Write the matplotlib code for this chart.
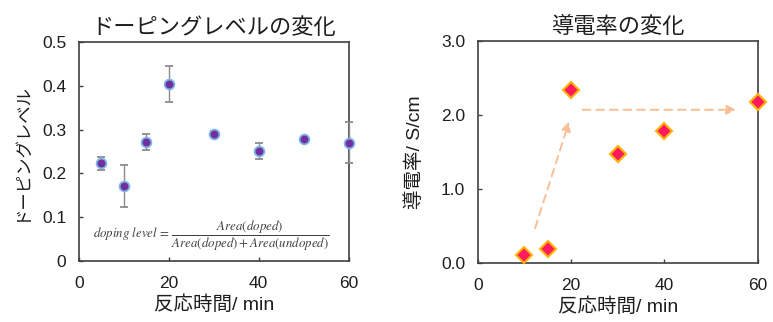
import matplotlib
matplotlib.use("Agg")
import matplotlib.pyplot as plt

plt.rcParams['font.family'] = ['Liberation Sans', 'Noto Sans CJK JP', 'DejaVu Sans']
plt.rcParams['mathtext.fontset'] = 'stix'

# Left chart: doping level
dop_time = [5, 10, 15, 20, 30, 40, 50, 60]
dop_level = [0.223, 0.172, 0.272, 0.405, 0.290, 0.252, 0.279, 0.270]
dop_err = [0.015, 0.048, 0.019, 0.041, 0.007, 0.018, 0.004, 0.047]

# Right chart: conductivity
cond_time = [10, 15, 20, 30, 40, 60]
cond_val = [0.112, 0.19, 2.34, 1.47, 1.786, 2.17]

# Arrow guides (data coords)
arrow1 = [(12.3, 0.47), (19.6, 1.91)]
arrow2 = [(22.5, 2.07), (55.4, 2.07)]

text_c = '#1e1e1e'
spine_c = '#404040'

fig = plt.figure(figsize=(7.73, 3.22), dpi=100)
ax1 = fig.add_axes([0.102, 0.189, 0.349, 0.681])
ax2 = fig.add_axes([0.618, 0.183, 0.362, 0.690])

def style(ax):
    for s in ax.spines.values():
        s.set_color(spine_c)
        s.set_linewidth(1.2)
    ax.tick_params(direction='in', length=3, width=1, color=spine_c,
                   labelsize=12.5, labelcolor=text_c)
    ax.tick_params(axis='y', pad=9)
    ax.tick_params(axis='x', pad=11)

# Left
ax1.errorbar(dop_time, dop_level, yerr=dop_err, fmt='o', ms=7,
             mfc='#7030A0', mec='#7FB2E5', mew=1.3,
             ecolor='#8C8C8C', elinewidth=1, capsize=3, capthick=1,
             clip_on=False, zorder=3)
ax1.set_xlim(0, 60)
ax1.set_ylim(0, 0.5)
ax1.set_xticks([0, 20, 40, 60])
ax1.set_yticks([0, 0.1, 0.2, 0.3, 0.4, 0.5])
ax1.set_yticklabels(['0', '0.1', '0.2', '0.3', '0.4', '0.5'])
style(ax1)
ax1.set_title('ドーピングレベルの変化', fontsize=16, color=text_c, pad=6,
              family=['Noto Sans CJK JP'])
ax1.set_xlabel('反応時間/ min', fontsize=14, color=text_c, labelpad=3)
ax1.set_ylabel('ドーピングレベル', fontsize=12.5, color=text_c, labelpad=9,
               family=['Noto Sans CJK JP'])
ax1.text(29.5, 0.057,
         r'$doping\ level\,=\,\dfrac{Area(doped)}{Area(doped)+Area(undoped)}$',
         fontsize=9.3, color='#404040', ha='center', va='center')

# Right
ax2.plot(cond_time, cond_val, 'D', ms=8, mfc='#FF1A5E', mec='#FFB000',
         mew=1.5, clip_on=False, zorder=3)
for (x0, y0), (x1, y1) in [arrow1, arrow2]:
    ax2.annotate('', xy=(x1, y1), xytext=(x0, y0),
                 arrowprops=dict(arrowstyle='-|>', linestyle=(0, (4, 3)),
                                 color='#F8BE94', lw=1.4,
                                 mutation_scale=14, shrinkA=0, shrinkB=0))
ax2.set_xlim(0, 60)
ax2.set_ylim(0, 3)
ax2.set_xticks([0, 20, 40, 60])
ax2.set_yticks([0, 1, 2, 3])
ax2.set_yticklabels(['0.0', '1.0', '2.0', '3.0'])
style(ax2)
ax2.set_title('導電率の変化', fontsize=16, color=text_c, pad=6,
              family=['Noto Sans CJK JP'])
ax2.set_xlabel('反応時間/ min', fontsize=14, color=text_c, labelpad=3)
ax2.set_ylabel('導電率/ S/cm', fontsize=14, color=text_c, labelpad=12)

fig.savefig('out.png', dpi=100)
